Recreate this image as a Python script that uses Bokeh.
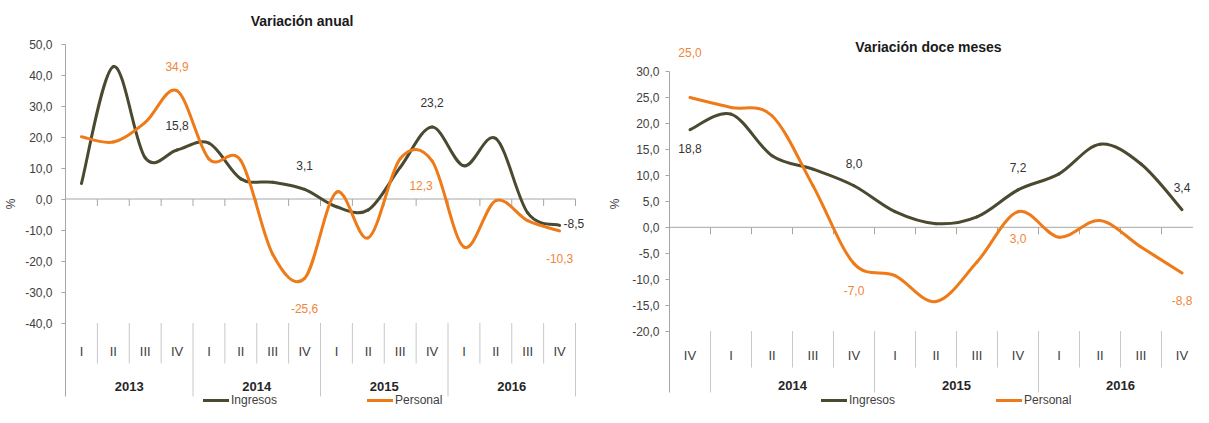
from bokeh.plotting import figure
from bokeh.models import Range1d, FixedTicker, Legend, LegendItem, ColumnDataSource
from bokeh.layouts import row
from bokeh.core.properties import value
from bokeh.embed import file_html
from bokeh.resources import INLINE

# ---------------- data ----------------
anual_quarters = ["I", "II", "III", "IV"] * 4
anual_years = ["2013"] * 4 + ["2014"] * 4 + ["2015"] * 4 + ["2016"] * 4
anual_ingresos = [5.0, 42.7, 13.3, 15.8, 18.0, 6.5, 5.4, 3.1, -2.5, -3.5, 10.2, 23.2, 10.7, 19.5, -4.5, -8.5]
anual_personal = [20.1, 18.4, 24.7, 34.9, 12.9, 12.4, -17.8, -25.6, 2.2, -12.5, 13.0, 12.3, -15.5, -0.5, -7.0, -10.3]
anual_yticks = [-40, -30, -20, -10, 0, 10, 20, 30, 40, 50]
anual_lab_ing = [3, 7, 11, 15]
anual_lab_per = [3, 7, 11, 15]

doce_quarters = ["IV"] + ["I", "II", "III", "IV"] * 3
doce_years = [""] + ["2014"] * 4 + ["2015"] * 4 + ["2016"] * 4
doce_ingresos = [18.8, 21.8, 13.8, 11.2, 8.0, 3.0, 0.7, 2.0, 7.2, 10.3, 16.0, 12.2, 3.4]
doce_personal = [25.0, 23.1, 21.5, 8.0, -7.0, -9.3, -14.3, -6.7, 3.0, -1.9, 1.3, -3.8, -8.8]
doce_yticks = [-20, -15, -10, -5, 0, 5, 10, 15, 20, 25, 30]
doce_lab_ing = [0, 4, 8, 12]
doce_lab_per = [0, 4, 8, 12]

series_names = ["Ingresos", "Personal"]

# ---------------- style ----------------
FONT = "Liberation Sans"
C_ING = "#4b4a31"
C_PER = "#ef7a18"
C_PER_TXT = "#f0863a"
C_TXT = "#404040"
C_AXIS = "#a6a6a6"
C_SEP = "#c8c8c8"
FIG_H = 407


def fmt(v):
    return f"{v:.1f}".replace(".", ",")


def smooth_source(ys):
    xs = list(range(len(ys)))
    n = len(ys)
    d = dict(x0=[], y0=[], x1=[], y1=[], cx0=[], cy0=[], cx1=[], cy1=[])
    for i in range(n - 1):
        a = i - 1 if i > 0 else i
        b = i + 2 if i + 2 < n else i + 1
        d["x0"].append(xs[i]); d["y0"].append(ys[i])
        d["x1"].append(xs[i + 1]); d["y1"].append(ys[i + 1])
        d["cx0"].append(xs[i] + (xs[i + 1] - xs[a]) / 6.0)
        d["cy0"].append(ys[i] + (ys[i + 1] - ys[a]) / 6.0)
        d["cx1"].append(xs[i + 1] - (xs[b] - xs[i]) / 6.0)
        d["cy1"].append(ys[i + 1] - (ys[b] - ys[i]) / 6.0)
    return ColumnDataSource(d)


def make_chart(cfg):
    fig_left = cfg["fig_left"]
    width = cfg["width"]
    border_l = cfg["border_l"]
    frame_left = fig_left + border_l
    ppx = cfg["ppx"]
    zero_y = cfg["zero_y"]
    ppy = cfg["ppy"]

    def X(px):
        return -0.5 + (px - frame_left) / ppx

    def Y(py):
        return (zero_y - py) / ppy

    x_end = X(fig_left + width)
    y_top = Y(0)
    y_bot = Y(FIG_H)

    p = figure(width=width, height=FIG_H, output_backend="svg", toolbar_location=None,
               x_range=Range1d(-0.5, x_end), y_range=Range1d(y_bot, y_top),
               x_axis_location=None, min_border_left=border_l, min_border_right=0,
               min_border_top=0, min_border_bottom=0)
    p.xgrid.visible = False
    p.ygrid.visible = False
    p.outline_line_color = None
    p.background_fill_color = "white"
    p.border_fill_color = "white"

    yticks = cfg["yticks"]
    ax = p.yaxis[0]
    ax.ticker = FixedTicker(ticks=yticks)
    ax.major_label_overrides = {t: fmt(t) for t in yticks}
    ax.bounds = (Y(cfg["sep_year_bottom"]), yticks[-1])
    ax.axis_line_color = C_AXIS
    ax.major_tick_line_color = C_AXIS
    ax.major_tick_out = 4
    ax.major_tick_in = 0
    ax.minor_tick_out = 0
    ax.minor_tick_in = 0
    ax.major_label_standoff = cfg["standoff"]
    ax.major_label_text_font = FONT
    ax.major_label_text_font_size = "12px"
    ax.major_label_text_color = C_TXT
    ax.axis_label = "%"
    ax.axis_label_text_font = FONT
    ax.axis_label_text_font_size = "12px"
    ax.axis_label_text_font_style = "normal"
    ax.axis_label_text_color = C_TXT
    ax.axis_label_standoff = cfg["label_standoff"]

    quarters = cfg["quarters"]
    years = cfg["years"]
    n = len(quarters)
    ymin_tick = yticks[0]

    # zero line with downward ticks at category boundaries
    p.segment(x0=[-0.5], x1=[n - 0.5], y0=[0], y1=[0], line_color=C_AXIS, line_width=1)
    bounds = [i - 0.5 for i in range(n + 1)]
    tick_len = 7.0 / ppy
    p.segment(x0=bounds, x1=bounds, y0=[0] * len(bounds), y1=[-tick_len] * len(bounds),
              line_color=C_AXIS, line_width=1)

    # category separators in the label band
    q_x, y_x = [], []
    for i in range(1, n + 1):
        b = i - 0.5
        if i == n or years[i] != years[i - 1]:
            y_x.append(b)
        else:
            q_x.append(b)
    p.segment(x0=q_x, x1=q_x, y0=[ymin_tick] * len(q_x), y1=[Y(cfg["sep_q_bottom"])] * len(q_x),
              line_color=C_SEP, line_width=1)
    p.segment(x0=y_x, x1=y_x, y0=[ymin_tick] * len(y_x), y1=[Y(cfg["sep_year_bottom"])] * len(y_x),
              line_color=C_SEP, line_width=1)

    # quarter labels
    p.text(x=list(range(n)), y=[Y(cfg["q_label_y"])] * n, text=quarters,
           text_font=value(FONT), text_font_size=value("13px"), text_color=C_TXT,
           text_align="center", text_baseline="middle")
    # year labels
    groups = {}
    for i, yr in enumerate(years):
        if yr:
            groups.setdefault(yr, []).append(i)
    yl = list(groups.keys())
    yx = [sum(v) / len(v) for v in groups.values()]
    p.text(x=yx, y=[Y(cfg["year_label_y"])] * len(yl), text=yl,
           text_font=value(FONT), text_font_size=value("13px"), text_font_style="bold",
           text_color="#262626", text_align="center", text_baseline="middle")

    # title
    p.text(x=[X(cfg["title_x"])], y=[Y(cfg["title_y"])], text=[cfg["title"]],
           text_font=value(FONT), text_font_size=value("14px"), text_font_style="bold",
           text_color="#1a1a1a", text_align="center", text_baseline="middle")

    # series
    r_ing = p.bezier(source=smooth_source(cfg["ing"]), x0="x0", y0="y0", x1="x1", y1="y1",
                     cx0="cx0", cy0="cy0", cx1="cx1", cy1="cy1",
                     line_color=C_ING, line_width=3, line_cap="round")
    r_per = p.bezier(source=smooth_source(cfg["per"]), x0="x0", y0="y0", x1="x1", y1="y1",
                     cx0="cx0", cy0="cy0", cx1="cx1", cy1="cy1",
                     line_color=C_PER, line_width=3, line_cap="round")

    # data labels
    for vals, idxs, offs, color in ((cfg["ing"], cfg["lab_ing"], cfg["off_ing"], "#333333"),
                                    (cfg["per"], cfg["lab_per"], cfg["off_per"], C_PER_TXT)):
        for k, i in enumerate(idxs):
            dy_px, dx_px, align = offs[k]
            p.text(x=[i + dx_px / ppx], y=[vals[i] + dy_px / ppy], text=[fmt(vals[i])],
                   text_font=value(FONT), text_font_size=value("12px"), text_color=color,
                   text_align=align, text_baseline="middle")

    # legends
    for name, r, lx in ((series_names[0], r_ing, cfg["leg_x"][0]), (series_names[1], r_per, cfg["leg_x"][1])):
        leg = Legend(items=[LegendItem(label=name, renderers=[r])], location=(lx - frame_left, 0),
                     orientation="horizontal", glyph_width=26, glyph_height=14, label_height=14,
                     label_standoff=2, padding=0, margin=0, border_line_color=None,
                     background_fill_alpha=0, label_text_font=FONT, label_text_font_size="12px",
                     label_text_color=C_TXT)
        p.add_layout(leg)
    return p


left_cfg = dict(
    fig_left=0, width=600, border_l=65, ppx=31.875, zero_y=198.5, ppy=3.1,
    yticks=anual_yticks, quarters=anual_quarters, years=anual_years,
    ing=anual_ingresos, per=anual_personal,
    lab_ing=anual_lab_ing, lab_per=anual_lab_per,
    off_ing=[(25, 0, "center"), (24, 0, "center"), (24.5, 0, "center"), (2, 4, "left")],
    off_per=[(24.5, 0, "center"), (-30, 0, "center"), (-24.5, -11, "center"), (-27.5, 0, "center")],
    sep_q_bottom=363, sep_year_bottom=396, q_label_y=350.7, year_label_y=386,
    title="Variación anual", title_x=301.5, title_y=20, standoff=9, label_standoff=4,
    leg_x=(203, 367),
)

right_cfg = dict(
    fig_left=600, width=593, border_l=69, ppx=41.0, zero_y=226.8, ppy=5.19,
    yticks=doce_yticks, quarters=doce_quarters, years=doce_years,
    ing=doce_ingresos, per=doce_personal,
    lab_ing=doce_lab_ing, lab_per=doce_lab_per,
    off_ing=[(-19, 0, "center"), (22, 0, "center"), (22, 0, "center"), (22, 0, "center")],
    off_per=[(45, 0, "center"), (-27, 0, "center"), (-27, 0, "center"), (-27.5, 0, "center")],
    sep_q_bottom=367, sep_year_bottom=392, q_label_y=355, year_label_y=385,
    title="Variación doce meses", title_x=928, title_y=46.7, standoff=6, label_standoff=7,
    leg_x=(821, 996),
)

p1 = make_chart(left_cfg)
p2 = make_chart(right_cfg)
layout = row(p1, p2)

open("out.html", "w").write(file_html(layout, INLINE))
